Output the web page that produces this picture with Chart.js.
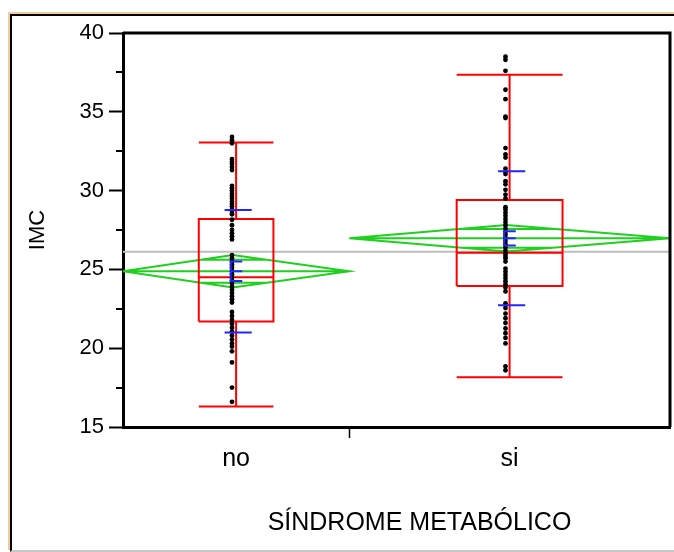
<!DOCTYPE html>
<html>
<head>
<meta charset="utf-8">
<script src="https://cdn.jsdelivr.net/npm/chart.js"></script>
<style>
html, body { margin: 0; background: #fff; overflow: hidden; }
#frame { position: absolute; left: 10px; top: 14px; width: 680px; height: 534px;
  border-left: 2px solid #000; border-top: 2px solid #000; border-bottom: 2px solid #c8c8c8;
  box-shadow: -2px -2px 0 #f6c8a0; }
#wrap { position: absolute; left: 0; top: 0; width: 674px; height: 552px; }
</style>
</head>
<body>
<div id="frame"></div>
<div id="wrap"><canvas id="myChart" width="674" height="552"></canvas></div>
<script>
const groups = ['no', 'si'];
const groupN = [55, 78];
const xTitle = 'SÍNDROME METABÓLICO';

// IMC of each subject
const noValues = [33.4, 33.2, 33.0, 32.0, 31.85, 31.7, 31.5, 31.3,
    30.3, 30.15, 30.0, 29.8, 29.65, 29.5, 29.3, 29.15, 29.0, 28.8, 28.65, 28.5,
    28.15, 27.8, 27.5, 27.3, 27.1, 26.9,
    25.9, 25.7, 25.5, 25.3, 25.1, 24.9, 24.7, 24.5, 24.3, 24.1, 23.9, 23.7, 23.5, 23.3, 23.1, 22.9,
    22.3, 22.05, 21.8, 21.55, 21.3, 21.05, 20.8, 20.55, 20.3, 20.1,
    19.8, 19.1, 17.5, 16.6];
const siValues = [38.5, 38.3, 37.6, 36.4, 35.8, 34.7, 34.6,
    32.7, 32.3, 32.1, 31.4, 31.2, 31.05, 30.6, 30.4, 30.05, 29.75, 29.5,
    28.95, 28.8, 28.6, 28.4, 28.2, 28.0, 27.8, 27.6, 27.4, 27.2, 27.0, 26.8, 26.6, 26.4, 26.2, 26.0, 25.85, 25.7, 25.5,
    25.05, 24.85, 24.65, 24.45, 24.25, 24.05, 23.85, 23.6,
    22.85, 22.55, 22.2, 21.9, 21.6, 21.25, 20.95, 20.65, 20.3,
    18.85, 18.6];

// box plot + means diamond stats per group
const whiskerLow = [16.3, 18.15];
const q1 = [21.7, 23.95];
const medians = [24.5, 26.05];
const q3 = [28.2, 29.4];
const whiskerHigh = [33.05, 37.35];
const means = [24.88, 26.97];
const ciHalf = [1.03, 0.84];
const seHalf = [0.62, 0.45];
const sdDev = [3.89, 4.25];
const grandMean = 26.12;

const yTicks = [15, 20, 25, 30, 35, 40];

const total = groupN[0] + groupN[1];
const starts = [0, groupN[0]];
const centers = [groupN[0] / 2, groupN[0] + groupN[1] / 2];

// helpers: turn polylines into one scatter dataset with breaks
function paths(list) {
    var out = [];
    list.forEach(function(p) {
        p.forEach(function(pt) { out.push({x: pt[0], y: pt[1]}); });
        out.push({x: p[p.length - 1][0], y: null});
    });
    return out;
}

function lineSet(data, color, order) {
    return {
        type: 'scatter',
        data: data,
        showLine: true,
        spanGaps: false,
        borderColor: color,
        borderWidth: 2,
        pointRadius: 0,
        pointHoverRadius: 0,
        tension: 0,
        fill: false,
        order: order
    };
}

var boxLines = [], diamondLines = [], blueLines = [], dots = [];
[noValues, siValues].forEach(function(vals, i) {
    var c = centers[i];
    var hw = groupN[i] * 0.165;
    boxLines.push([[c - hw, q1[i]], [c + hw, q1[i]], [c + hw, q3[i]], [c - hw, q3[i]], [c - hw, q1[i]]]);
    boxLines.push([[c - hw, medians[i]], [c + hw, medians[i]]]);
    boxLines.push([[c, q3[i]], [c, whiskerHigh[i]]]);
    boxLines.push([[c, q1[i]], [c, whiskerLow[i]]]);
    boxLines.push([[c - hw, whiskerHigh[i]], [c + hw, whiskerHigh[i]]]);
    boxLines.push([[c - hw, whiskerLow[i]], [c + hw, whiskerLow[i]]]);

    var l = starts[i], r = starts[i] + groupN[i], a = c - 0.8, m = means[i];
    diamondLines.push([[l, m], [a, m + ciHalf[i]], [r, m], [a, m - ciHalf[i]], [l, m]]);
    diamondLines.push([[l, m], [r, m]]);
    var ov = ciHalf[i] / Math.SQRT2;
    var f = 1 - 1 / Math.SQRT2;
    diamondLines.push([[a - (a - l) * f, m + ov], [a + (r - a) * f, m + ov]]);
    diamondLines.push([[a - (a - l) * f, m - ov], [a + (r - a) * f, m - ov]]);

    var ex = c - 1.3;
    blueLines.push([[ex + 2.8, m + seHalf[i]], [ex, m + seHalf[i]], [ex, m - seHalf[i]], [ex + 2.8, m - seHalf[i]]]);
    blueLines.push([[ex, m], [ex + 2.8, m]]);
    blueLines.push([[c - 2.8, m + sdDev[i]], [c + 3.8, m + sdDev[i]]]);
    blueLines.push([[c - 2.8, m - sdDev[i]], [c + 3.8, m - sdDev[i]]]);

    vals.forEach(function(v) { dots.push({x: c - 1, y: v}); });
});

// plot frame, minor y ticks and the x title (sits right of centre like JMP)
const extras = {
    id: 'extras',
    afterDraw: function(chart) {
        const ctx = chart.ctx, a = chart.chartArea, ys = chart.scales.y;
        ctx.save();
        ctx.strokeStyle = '#000';
        ctx.lineWidth = 3;
        ctx.beginPath();
        ctx.moveTo(a.left, a.top);
        ctx.lineTo(a.right, a.top);
        ctx.lineTo(a.right, a.bottom);
        ctx.stroke();
        ctx.lineWidth = 2;
        ctx.beginPath();
        for (var k = 0; k < yTicks.length - 1; k++) {
            var py = Math.round(ys.getPixelForValue((yTicks[k] + yTicks[k + 1]) / 2));
            ctx.moveTo(a.left - 7, py);
            ctx.lineTo(a.left, py);
        }
        ctx.stroke();
        ctx.fillStyle = '#000';
        ctx.font = '25px "Liberation Sans"';
        ctx.textAlign = 'center';
        ctx.textBaseline = 'middle';
        ctx.fillText(xTitle, (a.left + a.right) / 2 + 23, a.bottom + 96);
        ctx.restore();
    }
};

const ctx = document.getElementById('myChart');
const myChart = new Chart(ctx, {
    type: 'scatter',
    data: {
        datasets: [
            lineSet(paths([[[0, grandMean], [total, grandMean]]]), '#bdbdbd', 5),
            lineSet(paths(diamondLines), '#1fd01f', 4),
            lineSet(paths(boxLines), '#ff0000', 3),
            {
                type: 'scatter',
                data: dots,
                backgroundColor: '#000',
                borderColor: '#000',
                borderWidth: 0,
                pointRadius: 2.4,
                order: 2
            },
            lineSet(paths(blueLines), '#2424ff', 1)
        ]
    },
    options: {
        responsive: false,
        animation: false,
        layout: { padding: { left: 0, top: 33, right: 4, bottom: 0 } },
        plugins: { legend: { display: false }, tooltip: { enabled: false } },
        scales: {
            x: {
                type: 'linear',
                min: 0,
                max: total,
                afterBuildTicks: function(scale) {
                    scale.ticks = [{value: centers[0]}, {value: starts[1]}, {value: centers[1]}];
                },
                afterFit: function(scale) { scale.height = 125; },
                ticks: {
                    autoSkip: false,
                    maxRotation: 0,
                    padding: 6,
                    color: '#000',
                    font: { family: 'Liberation Sans', size: 25 },
                    callback: function(v, i) { return [groups[0], '', groups[1]][i]; }
                },
                grid: {
                    drawOnChartArea: false,
                    tickLength: 11,
                    tickWidth: 1.5,
                    tickColor: function(c) { return c.tick && c.tick.value === starts[1] ? '#000' : 'rgba(0,0,0,0)'; }
                },
                border: { color: '#000', width: 3 }
            },
            y: {
                min: 15,
                max: 40,
                afterBuildTicks: function(scale) {
                    scale.ticks = yTicks.map(function(v) { return {value: v}; });
                },
                afterFit: function(scale) { scale.width = 123; },
                ticks: {
                    padding: 5,
                    color: '#000',
                    font: { family: 'Liberation Sans', size: 22 }
                },
                grid: { drawOnChartArea: false, tickLength: 14, tickWidth: 2, tickColor: '#000' },
                border: { color: '#000', width: 3 },
                title: {
                    display: true,
                    text: 'IMC',
                    color: '#000',
                    font: { family: 'Liberation Sans', size: 22 },
                    padding: { top: 25, bottom: 0 }
                }
            }
        }
    },
    plugins: [extras]
});
</script>
</body>
</html>
